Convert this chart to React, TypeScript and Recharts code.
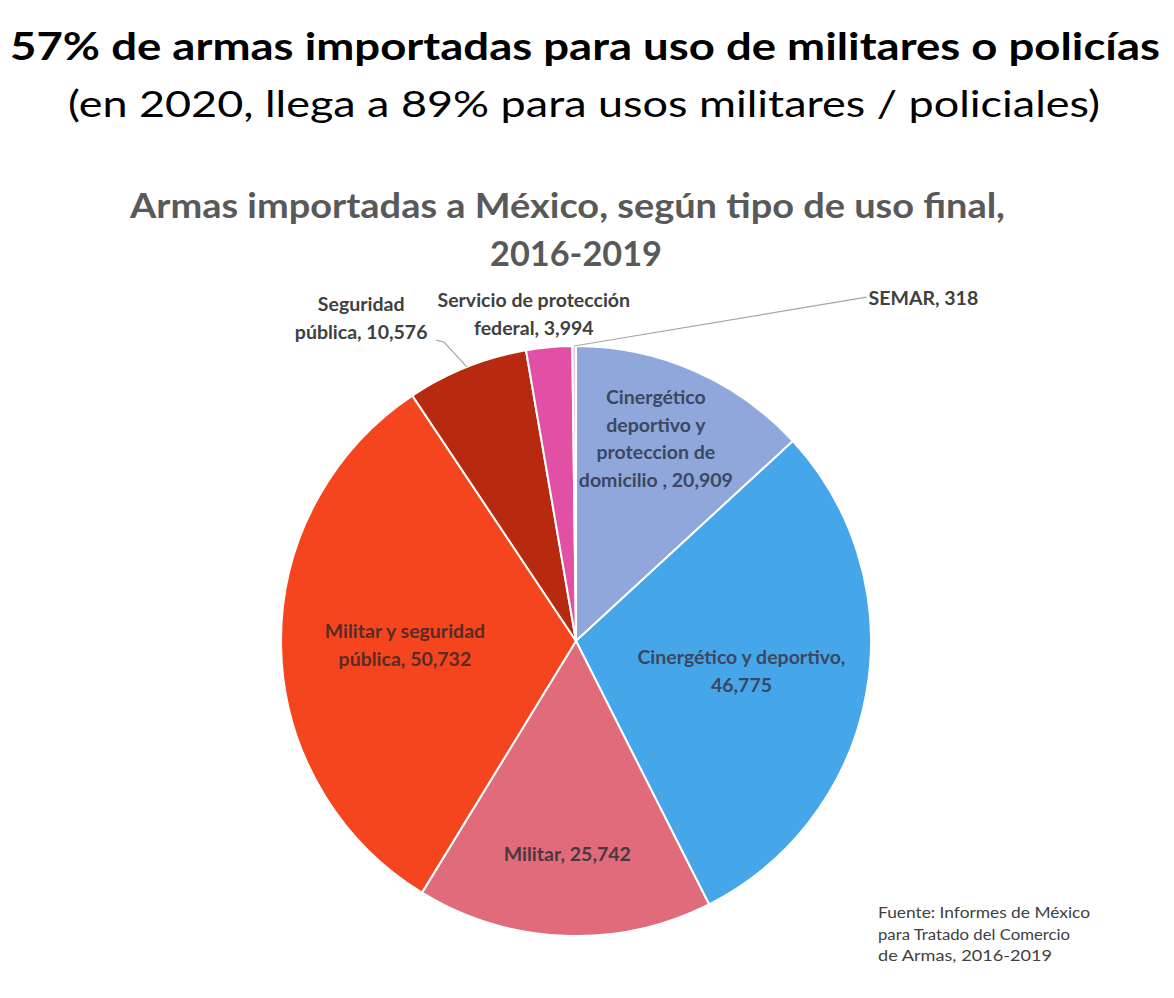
import { PieChart, Pie, Cell } from "recharts";

const categories = [
  "Cinergético deportivo y proteccion de domicilio",
  "Cinergético y deportivo",
  "Militar",
  "Militar y seguridad pública",
  "Seguridad pública",
  "Servicio de protección federal",
  "SEMAR",
];

const values = [20909, 46775, 25742, 50732, 10576, 3994, 318];

const labelLines = [
  ["Cinergético", "deportivo y", "proteccion de", "domicilio  , {v}"],
  ["Cinergético y deportivo,", "{v}"],
  ["Militar, {v}"],
  ["Militar y seguridad", "pública, {v}"],
  ["Seguridad", "pública, {v}"],
  ["Servicio de protección", "federal, {v}"],
  ["SEMAR, {v}"],
];

const sourceLines = ["Fuente: Informes de México", "para Tratado del Comercio", "de Armas, 2016-2019"];
const sourceWidths = [212, 192, 174];

const COLORS = ["#8fa7da", "#46a6ea", "#e06c7b", "#f5451e", "#b72a10", "#e150a5", "#f3c6dc"];
const TEXT_COLORS = ["#3b4763", "#3b4763", "#4a3840", "#5a2a24", "#404040", "#404040", "#404040"];

const data = categories.map((name, i) => ({ name, value: values[i] }));

const RAD = Math.PI / 180;
const FONT = "Lato, 'Open Sans', sans-serif";

// r = fraction of outer radius, rot = clockwise offset (deg) from the slice mid-angle
type Layout = {
  r: number;
  rot: number;
  anchor?: "middle" | "start";
  leader?: [number, number][];
};

const LAYOUT: Layout[] = [
  { r: 0.74, rot: -2.2 },
  { r: 0.57, rot: 0 },
  { r: 0.72, rot: 0 },
  { r: 0.58, rot: 0 },
  { r: 1.315, rot: -11.9, leader: [[1.0, 0], [1.108, -2.1], [1.125, -3.2]] },
  { r: 1.12, rot: -2.1 },
  { r: 1.526, rot: 40.56, anchor: "start", leader: [[1.0, 0], [1.526, 40.56]] },
];

function polar(cx: number, cy: number, r: number, angle: number) {
  return { x: cx + r * Math.cos(-angle * RAD), y: cy + r * Math.sin(-angle * RAD) };
}

const renderLabel = (props: any) => {
  const { cx, cy, midAngle, outerRadius, index, value } = props;
  const lay = LAYOUT[index];
  const p = polar(cx, cy, outerRadius * lay.r, midAngle - lay.rot);
  const lines = labelLines[index].map((l) => l.replace("{v}", value.toLocaleString("en-US")));
  const lh = lines.length > 2 ? 27.5 : 28;
  const x = lay.anchor === "start" ? p.x + 2 : p.x;
  return (
    <g key={`lbl-${index}`}>
      {lay.leader && (
        <polyline
          points={lay.leader
            .map(([r, rot]) => {
              const q = polar(cx, cy, outerRadius * r, midAngle - rot);
              return `${q.x},${q.y}`;
            })
            .join(" ")}
          fill="none"
          stroke="#a6a6a6"
          strokeWidth={1.2}
        />
      )}
      <text
        x={x}
        y={p.y}
        textAnchor={lay.anchor ?? "middle"}
        fill={TEXT_COLORS[index]}
        style={{ fontFamily: FONT, fontSize: 19.5, fontWeight: 700 }}
      >
        {lines.map((line, i) => (
          <tspan key={i} x={x} y={p.y + (i - (lines.length - 1) / 2) * lh} dominantBaseline="central">
            {line}
          </tspan>
        ))}
      </text>
    </g>
  );
};

export default function App() {
  return (
    <div
      style={{
        position: "absolute",
        left: 0,
        top: 0,
        width: 1174,
        height: 998,
        background: "#ffffff",
        fontFamily: FONT,
        overflow: "hidden",
      }}
    >
      <div style={{ position: "absolute", top: 0, left: 0 }}>
        <PieChart width={1174} height={998} margin={{ top: 0, right: 0, bottom: 0, left: 0 }}>
          <Pie
            data={data}
            dataKey="value"
            nameKey="name"
            cx={576}
            cy={641}
            outerRadius={295}
            startAngle={90}
            endAngle={-270}
            stroke="#ffffff"
            strokeWidth={2}
            label={renderLabel}
            labelLine={false}
            isAnimationActive={false}
          >
            {data.map((_, i) => (
              <Cell key={i} fill={COLORS[i]} />
            ))}
          </Pie>
        </PieChart>
      </div>
      <svg
        width={1174}
        height={998}
        style={{ position: "absolute", top: 0, left: 0, pointerEvents: "none", fontFamily: FONT }}
      >
        <text x={10} y={60} fontSize={38} fontWeight={700} fill="#000" textLength={1150} lengthAdjust="spacingAndGlyphs">
          57% de armas importadas para uso de militares o policías
        </text>
        <text x={68} y={117} fontSize={37} fontWeight={400} fill="#000" textLength={1032} lengthAdjust="spacingAndGlyphs">
          (en 2020, llega a 89% para usos militares / policiales)
        </text>
        <text x={130} y={218} fontSize={35} fontWeight={700} fill="#595959" textLength={875} lengthAdjust="spacingAndGlyphs">
          Armas importadas a México, según tipo de uso final,
        </text>
        <text x={490} y={266} fontSize={35} fontWeight={700} fill="#595959" textLength={172} lengthAdjust="spacingAndGlyphs">
          2016-2019
        </text>
        {sourceLines.map((line, i) => (
          <text
            key={i}
            x={878}
            y={918 + i * 21.5}
            fontSize={15.5}
            fill="#404040"
            textLength={sourceWidths[i]}
            lengthAdjust="spacingAndGlyphs"
          >
            {line}
          </text>
        ))}
      </svg>
    </div>
  );
}
